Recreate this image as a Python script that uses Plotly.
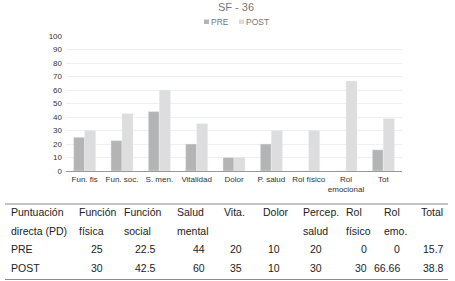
import plotly.graph_objects as go

categories = ["Fun. fis", "Fun. soc.", "S. men.", "Vitalidad", "Dolor", "P. salud", "Rol físico", "Rol<br>emocional", "Tot"]
pre_values = [25, 22.5, 44, 20, 10, 20, 0, 0, 15.7]
post_values = [30, 42.5, 60, 35, 10, 30, 30, 66.66, 38.8]
y_ticks = [0, 10, 20, 30, 40, 50, 60, 70, 80, 90, 100]
series_names = ["PRE", "POST"]
series_colors = ["#b4b4b4", "#dddddd"]

table_header1 = ["Puntuación", "Función", "Función", "Salud", "Vita.", "Dolor", "Percep.", "Rol", "Rol", "Total"]
table_header2 = ["directa (PD)", "física", "social", "mental", "", "", "salud", "físico", "emo.", ""]
table_pre = ["PRE", "25", "22.5", "44", "20", "10", "20", "0", "0", "15.7"]
table_post = ["POST", "30", "42.5", "60", "35", "10", "30", "30", "66.66", "38.8"]

W, H = 455, 281
L, R, T, B = 66, 53, 36, 110
pw, ph = W - L - R, H - T - B

def px(x):
    return (x - L) / pw

def py(y):
    return (H - B - y) / ph

fig = go.Figure()
fig.add_trace(go.Bar(x=categories, y=pre_values, name=series_names[0], marker_color=series_colors[0]))
fig.add_trace(go.Bar(x=categories, y=post_values, name=series_names[1], marker_color=series_colors[1]))

font = "Liberation Sans, Arial, Helvetica, sans-serif"

fig.update_layout(
    width=W, height=H,
    margin=dict(l=L, r=R, t=T, b=B, autoexpand=False),
    paper_bgcolor="white", plot_bgcolor="white",
    barmode="group", bargap=0.41, bargroupgap=0,
    title=dict(text="SF - 36", x=236 / W, xanchor="center", y=1 - 7.5 / H, yanchor="middle",
               font=dict(family=font, size=11, color="#777777")),
    showlegend=False,
    font=dict(family=font, color="#333333"),
)
fig.update_yaxes(range=[0, 100], tickvals=y_ticks, showgrid=True, gridcolor="#f0f0f0", gridwidth=1,
                 zeroline=False, showline=False, ticks="", tickfont=dict(size=8, color="#333333"),
                 ticklabelstandoff=3, fixedrange=True)
fig.update_xaxes(showline=True, linecolor="#999999", linewidth=1, ticks="", tickangle=0,
                 tickfont=dict(size=8, color="#333333"), fixedrange=True)

# legend (drawn by hand to match the compact look)
legend_sq_x = [204, 239]
for name, color, sx in zip(series_names, series_colors, legend_sq_x):
    fig.add_shape(type="rect", xref="paper", yref="paper", x0=px(sx), x1=px(sx + 5),
                  y0=py(24), y1=py(19.5), fillcolor=color, line=dict(width=0))
    fig.add_annotation(text=name, xref="paper", yref="paper", x=px(sx + 5.5), y=py(21.8), xanchor="left",
                       yanchor="middle", showarrow=False, borderpad=0,
                       font=dict(family=font, size=8.5, color="#777777"))

# table rules
for yline in [204, 279.5]:
    fig.add_shape(type="line", xref="paper", yref="paper", x0=px(5), x1=px(448), y0=py(yline), y1=py(yline),
                  line=dict(color="#8a8a8a", width=1.2))

header_left = [10, 78, 123, 176, 223, 262, 302, 345, 383, 420]
value_right = [None, 104, 157, 206, 243, 281, 323, 368, 401, 445]
row_y = [212, 230.5, 249, 268]
tfont = dict(family=font, size=10.5, color="#222222")

def add_text(txt, x, y, anchor):
    if txt == "":
        return
    fig.add_annotation(text=txt, xref="paper", yref="paper", x=px(x), y=py(y), xanchor=anchor,
                       yanchor="middle", showarrow=False, font=tfont, borderpad=0)

for i in range(len(table_header1)):
    add_text(table_header1[i], header_left[i], row_y[0], "left")
    add_text(table_header2[i], header_left[i], row_y[1], "left")
    if i == 0:
        add_text(table_pre[i], header_left[i], row_y[2], "left")
        add_text(table_post[i], header_left[i], row_y[3], "left")
    else:
        add_text(table_pre[i], value_right[i], row_y[2], "right")
        add_text(table_post[i], value_right[i], row_y[3], "right")

fig.write_html("out.html", config={"displayModeBar": False},
               post_script="document.body.style.margin='0';document.body.style.overflow='hidden';")
